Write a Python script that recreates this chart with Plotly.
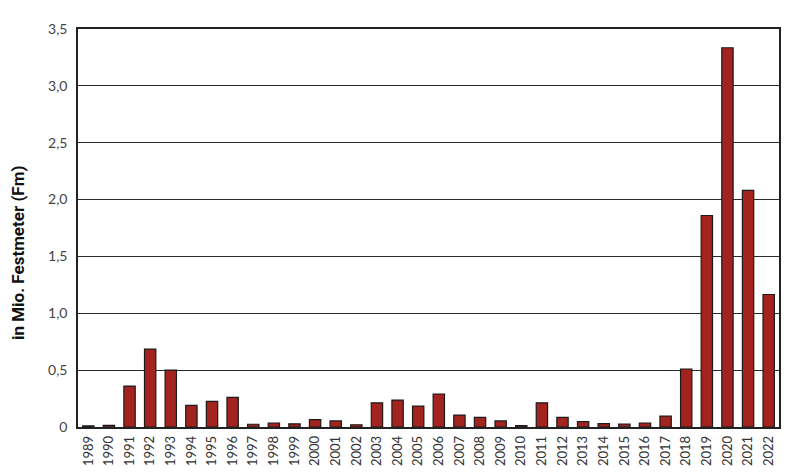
import plotly.graph_objects as go

years = [str(y) for y in range(1989, 2023)]
values = [0.01, 0.015, 0.36, 0.685, 0.50, 0.19, 0.225, 0.26, 0.024, 0.035,
          0.028, 0.064, 0.053, 0.02, 0.213, 0.237, 0.184, 0.29, 0.105, 0.085,
          0.053, 0.012, 0.213, 0.085, 0.047, 0.03, 0.025, 0.035, 0.096, 0.51,
          1.86, 3.335, 2.08, 1.165]
y_tickvals = [0, 0.5, 1.0, 1.5, 2.0, 2.5, 3.0, 3.5]
y_ticktext = ["0", "0,5", "1,0", "1,5", "2,0", "2,5", "3,0", "3,5"]
y_title = "in Mio. Festmeter (Fm)"

fig = go.Figure(go.Bar(
    x=years, y=values,
    marker=dict(color="#a3241f", line=dict(color="#1a1a1a", width=1.2)),
))

fig.update_layout(
    width=784, height=460,
    margin=dict(l=70, r=13, t=21, b=41, autoexpand=False),
    paper_bgcolor="white", plot_bgcolor="white",
    bargap=0.45,
    showlegend=False,
    font=dict(family="Lato, Open Sans, sans-serif", color="#333"),
)
fig.update_xaxes(
    type="category", tickangle=-90, automargin=False,
    tickfont=dict(size=13, color="#333"),
    showline=True, linecolor="#222", linewidth=1.5, mirror=True,
    showgrid=False, ticks="", ticklabelstandoff=2,
)
fig.update_yaxes(
    range=[0, 3.5], tickvals=y_tickvals, ticktext=y_ticktext, automargin=False,
    tickfont=dict(size=14, color="#444"),
    showgrid=True, gridcolor="#2a2a2a", gridwidth=1.3,
    showline=True, linecolor="#222", linewidth=1.5, mirror=True,
    ticks="", zeroline=False, ticklabelstandoff=6,
)
fig.add_annotation(
    text="<b>" + y_title + "</b>", textangle=-90,
    xref="paper", yref="paper", x=-0.0856, y=0.437,
    xanchor="center", yanchor="middle", showarrow=False,
    font=dict(size=17, color="#111", family="Roboto, sans-serif"),
)

fig.write_html("out.html")
